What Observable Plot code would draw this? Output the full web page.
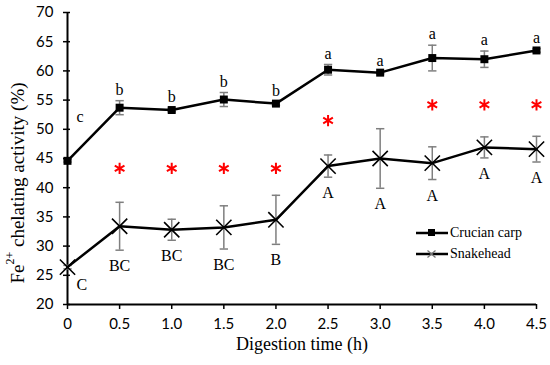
<!DOCTYPE html>
<html>
<head>
<meta charset="utf-8">
<script src="https://cdn.jsdelivr.net/npm/d3@7"></script>
<script src="https://cdn.jsdelivr.net/npm/@observablehq/plot@0.6"></script>
<style>
  html, body { margin: 0; padding: 0; background: white; }
  #wrap { position: relative; width: 550px; height: 365px; }
  #legend { position: absolute; left: 415px; top: 222px; font-family: "Liberation Serif", "Times New Roman", serif; font-size: 14px; color: #000; }
  #legend .row { display: flex; align-items: center; height: 21px; }
  #legend svg { display: block; margin-right: 1px; }
  .serif { font-family: "Liberation Serif", "Times New Roman", serif !important; }
</style>
</head>
<body>
<div id="wrap"></div>
<script>
// ---- data ----
const times = [0, 0.5, 1.0, 1.5, 2.0, 2.5, 3.0, 3.5, 4.0, 4.5];
const carpMean = [44.6, 53.7, 53.3, 55.1, 54.4, 60.2, 59.7, 62.2, 62.0, 63.5];
const carpErr  = [0.2, 1.2, 0.3, 1.2, 0.3, 0.9, 0.2, 2.2, 1.4, 0.3];
const snakeMean = [26.4, 33.4, 32.8, 33.2, 34.5, 43.7, 45.0, 44.2, 46.9, 46.6];
const snakeErr  = [0.3, 4.1, 1.8, 3.7, 4.2, 1.9, 5.1, 2.8, 1.8, 2.2];
const carpLetters  = ["c", "b", "b", "b", "b", "a", "a", "a", "a", "a"];
const snakeLetters = ["C", "BC", "BC", "BC", "B", "A", "A", "A", "A", "A"];
const starTimes  = [0.5, 1.0, 1.5, 2.0, 2.5, 3.5, 4.0, 4.5];
const starValues = [43.3, 43.3, 43.3, 43.3, 51.5, 54.2, 54.2, 54.2];
const xTicks = [0, 0.5, 1.0, 1.5, 2.0, 2.5, 3.0, 3.5, 4.0, 4.5];
const yTicks = [20, 25, 30, 35, 40, 45, 50, 55, 60, 65, 70];
const seriesNames = ["Crucian carp", "Snakehead"];
const xTitle = "Digestion time (h)";

const rows = times.map((t, i) => ({
  t, cm: carpMean[i], ce: carpErr[i], sm: snakeMean[i], se: snakeErr[i],
  cl: carpLetters[i], sl: snakeLetters[i]
}));
const stars = starTimes.map((t, i) => ({t, v: starValues[i]}));

const serif = "Liberation Serif, Times New Roman, serif";
const capSymbol = {draw(ctx, size) { const w = Math.sqrt(size) / 2; ctx.moveTo(-w, 0); ctx.lineTo(w, 0); }};
const errColor = "#7f7f7f";

const chart = Plot.plot({
  width: 550, height: 365,
  marginLeft: 67, marginRight: 14, marginTop: 12, marginBottom: 61,
  x: {domain: [0, 4.5]},
  y: {domain: [20, 70]},
  style: {background: "white", fontFamily: "Lato, sans-serif", fontSize: "15px", color: "black", overflow: "visible"},
  marks: [
    Plot.axisY({ticks: yTicks, tickSize: 4, tickPadding: 10, label: null, fontSize: 15, strokeWidth: 1.5}),
    Plot.axisY({ticks: yTicks, tickSize: -3, tickFormat: () => "", label: null, strokeWidth: 1.5}),
    Plot.axisX({ticks: xTicks, tickSize: 5, tickPadding: 9, label: null, fontSize: 15, strokeWidth: 1.5,
      tickFormat: d => d === 0 ? "0" : d.toFixed(1)}),
    Plot.ruleX([0], {stroke: "black", strokeWidth: 2}),
    Plot.ruleY([20], {stroke: "black", strokeWidth: 2}),
    // error bars
    Plot.ruleX(rows, {x: "t", y1: d => d.cm - d.ce, y2: d => d.cm + d.ce, stroke: errColor, strokeWidth: 1.5}),
    Plot.ruleX(rows, {x: "t", y1: d => d.sm - d.se, y2: d => d.sm + d.se, stroke: errColor, strokeWidth: 1.5}),
    Plot.dot(rows, {x: "t", y: d => d.cm + d.ce, symbol: capSymbol, r: 4.7, stroke: errColor, strokeWidth: 1.5}),
    Plot.dot(rows, {x: "t", y: d => d.cm - d.ce, symbol: capSymbol, r: 4.7, stroke: errColor, strokeWidth: 1.5}),
    Plot.dot(rows, {x: "t", y: d => d.sm + d.se, symbol: capSymbol, r: 4.7, stroke: errColor, strokeWidth: 1.5}),
    Plot.dot(rows, {x: "t", y: d => d.sm - d.se, symbol: capSymbol, r: 4.7, stroke: errColor, strokeWidth: 1.5}),
    // lines
    Plot.line(rows, {x: "t", y: "cm", stroke: "black", strokeWidth: 2.5}),
    Plot.line(rows, {x: "t", y: "sm", stroke: "black", strokeWidth: 2.5}),
    Plot.dot(rows, {x: "t", y: "cm", symbol: "square", r: 4.5, fill: "black"}),
    Plot.dot(rows, {x: "t", y: "sm", symbol: "times", r: 7, stroke: "black", strokeWidth: 1.6}),
    // significance stars
    Plot.dot(stars, {x: "t", y: "v", symbol: "asterisk", r: 5.3, stroke: "#ff0000", strokeWidth: 2}),
    // letters
    Plot.text(rows.slice(1), {x: "t", y: d => d.cm + d.ce, text: "cl", dy: -11, fontFamily: serif, fontSize: 16, className: "serif"}),
    Plot.text(rows.slice(1), {x: "t", y: d => d.sm - d.se, text: "sl", dy: 16, fontFamily: serif, fontSize: 16, className: "serif"}),
    Plot.text(rows.slice(0, 1), {x: "t", y: "cm", text: "cl", dx: 9, dy: -44, textAnchor: "start", fontFamily: serif, fontSize: 16, className: "serif"}),
    Plot.text(rows.slice(0, 1), {x: "t", y: "sm", text: "sl", dx: 9, dy: 18, textAnchor: "start", fontFamily: serif, fontSize: 16, className: "serif"}),
    // x title
    Plot.text([xTitle], {frameAnchor: "bottom", dy: 45, fontFamily: serif, fontSize: 18, className: "serif"})
  ]
});

// y title with superscript
const svg = d3.select(chart);
const yt = svg.append("text")
  .attr("class", "serif")
  .attr("transform", "translate(17,183) rotate(-90)")
  .attr("text-anchor", "middle")
  .attr("dominant-baseline", "central")
  .attr("font-family", serif)
  .attr("font-size", 19)
  .attr("fill", "black");
yt.append("tspan").text("Fe");
yt.append("tspan").attr("font-size", 12).attr("dy", -7).text("2+");
yt.append("tspan").attr("dy", 7).text(" chelating activity (%)");

const wrap = document.getElementById("wrap");
wrap.appendChild(chart);

// legend
const legend = document.createElement("div");
legend.id = "legend";
const markerFns = [
  g => g.append("rect").attr("x", 13).attr("y", 6).attr("width", 7).attr("height", 7).attr("fill", "black"),
  g => g.append("path").attr("d", "M12.5,6.5L20.5,13.5M12.5,13.5L20.5,6.5").attr("stroke", "#777").attr("stroke-width", 1.3)
];
seriesNames.forEach((name, i) => {
  const row = document.createElement("div");
  row.className = "row";
  const s = d3.create("svg").attr("width", 34).attr("height", 20);
  s.append("line").attr("x1", 1).attr("x2", 33).attr("y1", 10).attr("y2", 10).attr("stroke", "black").attr("stroke-width", 2.5);
  markerFns[i](s);
  row.appendChild(s.node());
  const span = document.createElement("span");
  span.textContent = name;
  row.appendChild(span);
  legend.appendChild(row);
});
wrap.appendChild(legend);
</script>
</body>
</html>
